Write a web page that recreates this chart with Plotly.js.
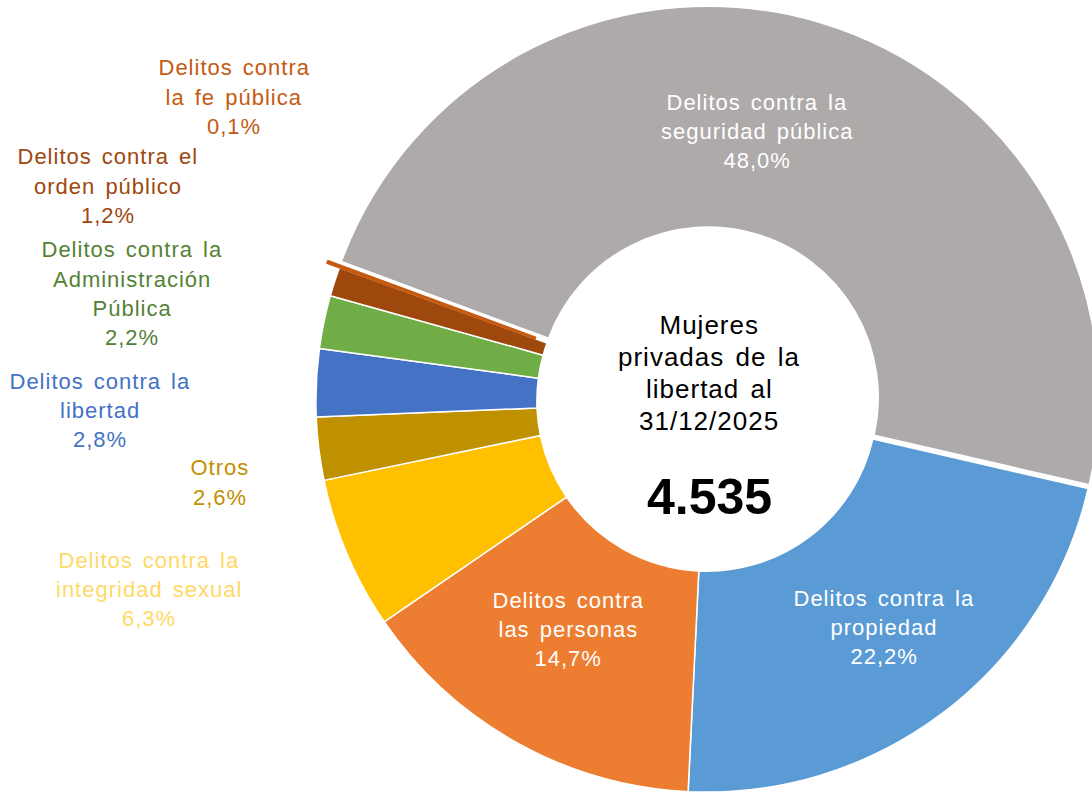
<!DOCTYPE html>
<html>
<head>
<meta charset="utf-8">
<script src="https://cdn.plot.ly/plotly-3.0.1.min.js"></script>
<style>
  html, body { margin: 0; padding: 0; background: #fff; overflow: hidden; width: 1092px; height: 792px; }
  #chart { position: absolute; left: 0; top: -3px; width: 1414px; height: 808px; }
  #chart svg text { letter-spacing: 1px; word-spacing: 3px; }
  #chart .annotation[data-index="0"] text { letter-spacing: 0; word-spacing: 0; }
</style>
</head>
<body>
<div id="chart"></div>
<script>
// ---- data ----
const categories = [
  "Delitos contra la|seguridad pública",
  "Delitos contra la|propiedad",
  "Delitos contra|las personas",
  "Delitos contra la|integridad sexual",
  "Otros",
  "Delitos contra la|libertad",
  "Delitos contra la|Administración|Pública",
  "Delitos contra el|orden público",
  "Delitos contra|la fe pública"
];
const values = [48.0, 22.2, 14.7, 6.3, 2.6, 2.8, 2.2, 1.2, 0.1];
const centerTitle = ["Mujeres", "privadas de la", "libertad al", "31/12/2025"];
const totalWomen = "4.535";

// ---- styles ----
const sliceColors = ["#AEAAAA", "#5B9BD5", "#ED7D31", "#FFC000", "#BF9000", "#4472C4", "#70AD47", "#9E480E", "#C55A11"];
const labelColors = ["#FFFFFF", "#FFFFFF", "#FFFFFF", "#FFD966", "#BF9000", "#4472C4", "#548235", "#9E480E", "#C55A11"];
const borderColors = ["#FFFFFF", "#FFFFFF", "#FFFFFF", "#FFFFFF", "#FFFFFF", "#FFFFFF", "#FFFFFF", "#FFFFFF", "#C55A11"];
const borderWidths = [1.5, 1.5, 1.5, 1.5, 1.5, 1.5, 1.5, 1.5, 2];
const pulls = [0.01, 0, 0, 0, 0, 0, 0, 0, 0.033];
// label anchor (page pixels): center x, y of first line
const labelPos = [
  [757, 102], [884, 598], [568, 600], [149, 560], [220, 468],
  [100, 381], [132, 250], [108, 157], [234, 68]
];
const lineGap = 29.3;

const W = 1414, H = 808, TOP = -3;
const px = x => x / W;
const py = y => 1 - (y - TOP) / H;
const FONT = "Liberation Sans, Arial, sans-serif";

const annotations = [];
// index 0: big number
annotations.push({
  text: "<b>" + totalWomen + "</b>", x: px(709), y: py(497), xref: "paper", yref: "paper",
  showarrow: false, xanchor: "center", yanchor: "middle",
  font: { family: FONT, size: 50, color: "#000000" }
});
centerTitle.forEach((t, i) => {
  annotations.push({
    text: t, x: px(709), y: py(325 + i * 32), xref: "paper", yref: "paper",
    showarrow: false, xanchor: "center", yanchor: "middle",
    font: { family: FONT, size: 26, color: "#000000" }
  });
});
categories.forEach((c, k) => {
  const lines = c.split("|").concat([values[k].toFixed(1).replace(".", ",") + "%"]);
  lines.forEach((t, i) => {
    annotations.push({
      text: t, x: px(labelPos[k][0]), y: py(labelPos[k][1] + i * lineGap),
      xref: "paper", yref: "paper", showarrow: false, xanchor: "center", yanchor: "middle",
      font: { family: FONT, size: 22, color: labelColors[k] }
    });
  });
});

const trace = {
  type: "pie",
  labels: categories.map(c => c.replace(/\|/g, " ")),
  values: values,
  sort: false,
  direction: "clockwise",
  rotation: -69.7,
  hole: 0.435,
  pull: pulls,
  textinfo: "none",
  hoverinfo: "label+percent",
  marker: { colors: sliceColors, line: { color: borderColors, width: borderWidths } },
  domain: { x: [0, 1], y: [0, 1] }
};

const layout = {
  width: W, height: H,
  margin: { l: 0, r: 0, t: 0, b: 0 },
  paper_bgcolor: "#FFFFFF",
  showlegend: false,
  annotations: annotations
};

Plotly.newPlot("chart", [trace], layout, { displayModeBar: false, staticPlot: true });
</script>
</body>
</html>
